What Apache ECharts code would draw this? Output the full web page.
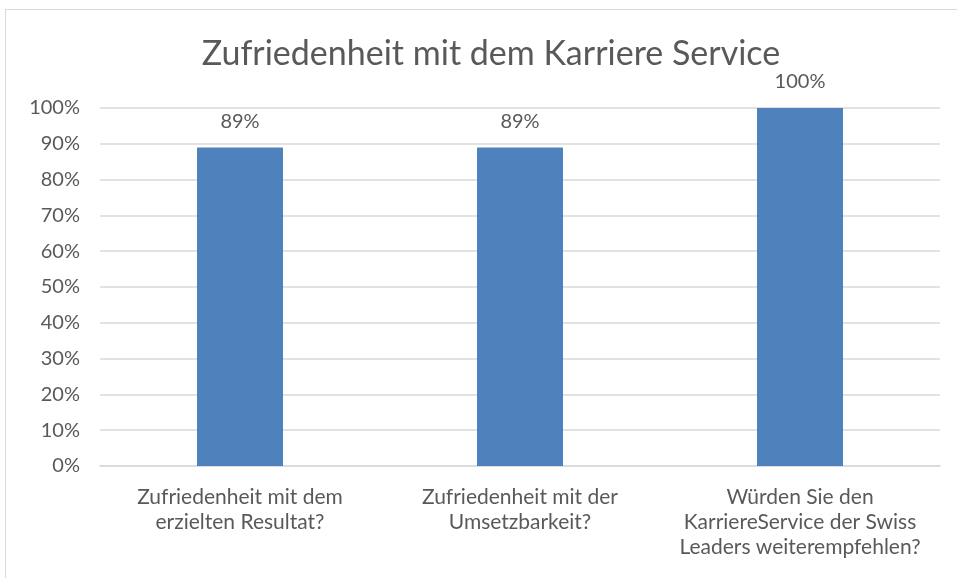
<!DOCTYPE html>
<html>
<head>
<meta charset="utf-8">
<script src="https://cdn.jsdelivr.net/npm/echarts@6/dist/echarts.min.js"></script>
<style>
    html, body { margin: 0; padding: 0; background: #fff; }
    #frame {
        position: absolute; left: 5px; top: 9px; width: 957px; height: 578px;
        border: 1px solid #d9d9d9; box-sizing: border-box;
    }
    #chart { position: absolute; left: 0; top: 0; width: 957px; height: 578px; }
</style>
</head>
<body>
<div id="frame"></div>
<div id="chart"></div>
<script>
    // Werte aus der Grafik
    const categories = [
        'Zufriedenheit mit dem\nerzielten Resultat?',
        'Zufriedenheit mit der\nUmsetzbarkeit?',
        'Würden Sie den\nKarriereService der Swiss\nLeaders weiterempfehlen?'
    ];
    const values = [89, 89, 100];

    let myChart = echarts.init(document.getElementById('chart'));
    const font = 'Lato, "Open Sans", sans-serif';

    let option = {
        animation: false,
        title: {
            text: 'Zufriedenheit mit dem Karriere Service',
            left: 486,
            top: 32,
            textAlign: 'center',
            textStyle: { fontFamily: font, fontSize: 34, fontWeight: 'normal', color: '#595959' }
        },
        grid: { left: 100, right: 17, top: 108, bottom: 112 },
        xAxis: {
            type: 'category',
            data: categories,
            axisLine: { show: true, lineStyle: { color: '#d9d9d9', width: 1.5 } },
            axisTick: { show: false },
            axisLabel: {
                interval: 0,
                margin: 19,
                fontFamily: font, fontSize: 21, color: '#595959', lineHeight: 25, align: 'center'
            }
        },
        yAxis: {
            type: 'value',
            min: 0, max: 100, interval: 10,
            axisLine: { show: false },
            axisTick: { show: false },
            splitLine: { lineStyle: { color: '#d9d9d9', width: 1.5 } },
            axisLabel: {
                formatter: '{value}%',
                margin: 20,
                fontFamily: font, fontSize: 20, color: '#595959'
            }
        },
        series: [{
            type: 'bar',
            data: values,
            barWidth: 86,
            itemStyle: { color: '#4f81bd' },
            label: {
                show: true,
                position: 'top',
                distance: 16,
                formatter: '{c}%',
                fontFamily: font, fontSize: 20, color: '#595959'
            }
        }]
    };
    myChart.setOption(option, true);
</script>
</body>
</html>
